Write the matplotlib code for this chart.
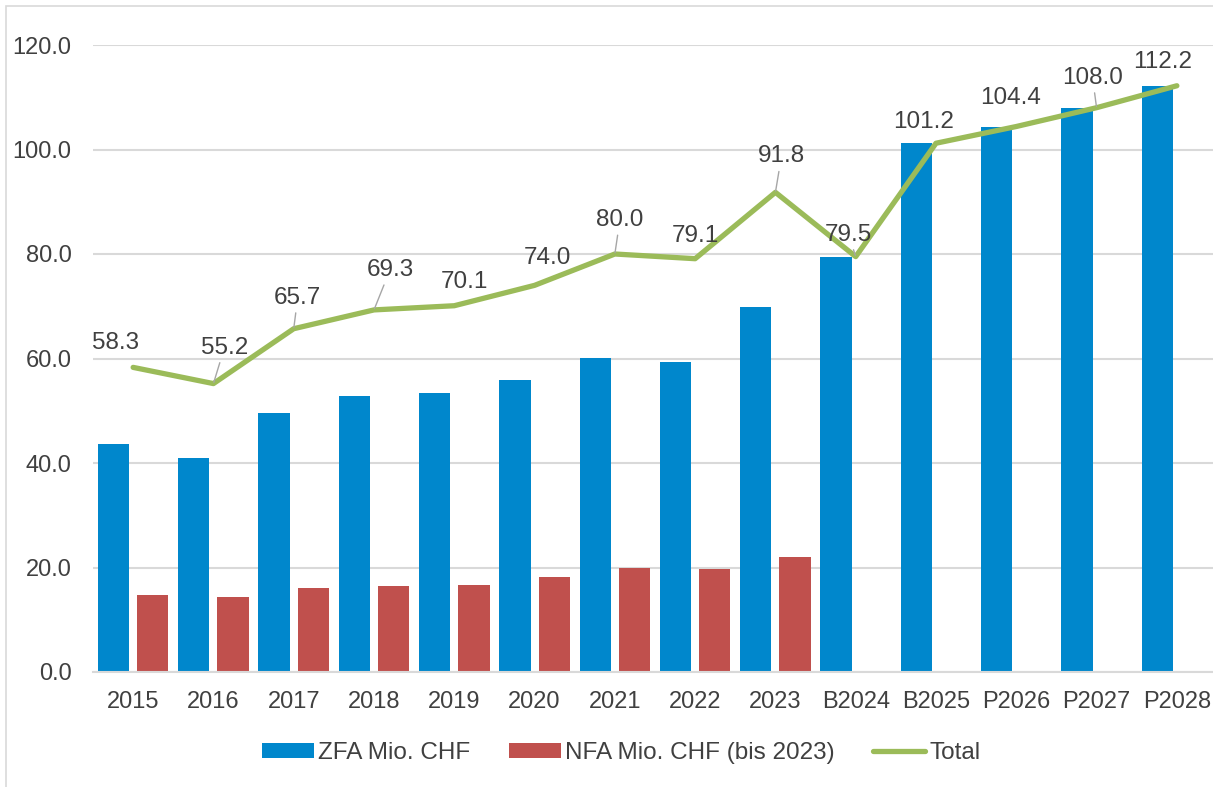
import matplotlib.pyplot as plt
import numpy as np
from matplotlib.patches import Rectangle

# Values (Mio. CHF).
categories = ['2015', '2016', '2017', '2018', '2019', '2020', '2021',
              '2022', '2023', 'B2024', 'B2025', 'P2026', 'P2027', 'P2028']
zfa = [43.6, 40.9, 49.6, 52.8, 53.4, 55.9, 60.1, 59.3, 69.8,
       79.5, 101.2, 104.4, 108.0, 112.2]
nfa = [14.7, 14.3, 16.1, 16.5, 16.7, 18.1, 19.9, 19.8, 22.0]   # bis 2023
total = [58.3, 55.2, 65.7, 69.3, 70.1, 74.0, 80.0, 79.1, 91.8,
         79.5, 101.2, 104.4, 108.0, 112.2]

# Where each total label sits relative to its point (pixels) and
# whether the gray leader line is shown.
label_offsets = [(-18, 24), (11, 36), (4, 31), (16, 40), (10, 24), (13, 27),
                 (5, 34), (0, 23), (6, 36), (-7, 22), (-12, 21), (-6, 29),
                 (-4, 30), (-14, 24)]
show_leader = [False, True, True, True, False, False, True, False, True,
               True, False, False, True, False]

BLUE = '#0087CC'
RED = '#C0504D'
GREEN = '#9BBB59'
GRID = '#D9D9D9'
TEXT = '#404040'

W, H = 1213, 787

plt.rcParams['font.family'] = ['Liberation Sans', 'DejaVu Sans']
plt.rcParams['font.size'] = 17
plt.rcParams['text.color'] = TEXT


def main():
    fig = plt.figure(figsize=(W / 100, H / 100), dpi=100)
    ax = fig.add_axes([93 / W, (H - 672) / H, (1217 - 93) / W, (672 - 45) / H])

    # Chart frame (light gray border of the embedded chart).
    fig.patches.append(Rectangle((6 / W, -0.01), 1.0, (H - 6) / H + 0.01,
                                 transform=fig.transFigure, fill=False,
                                 edgecolor=GRID, linewidth=1.2))

    x = np.arange(len(categories))
    width = 0.39
    offset = 0.245

    h_zfa = ax.bar(x - offset, zfa, width, color=BLUE, label='ZFA Mio. CHF',
                   zorder=2)
    h_nfa = ax.bar(x[:len(nfa)] + offset, nfa, width, color=RED,
                   label='NFA Mio. CHF (bis 2023)', zorder=2)
    h_tot, = ax.plot(x, total, color=GREEN, linewidth=3.8, label='Total',
                     solid_capstyle='round', solid_joinstyle='round', zorder=3)

    for xi, val, (dx, dy), lead in zip(x, total, label_offsets, show_leader):
        arrow = None
        if lead:
            arrow = dict(arrowstyle='-', color='#A6A6A6', linewidth=1.0,
                         shrinkA=1, shrinkB=1)
        ax.annotate(f'{val:.1f}', xy=(xi, val), xytext=(dx, dy),
                    textcoords='offset pixels', ha='center', va='center',
                    fontsize=17.5, color=TEXT, arrowprops=arrow, zorder=4)

    ax.set_xlim(-0.5, len(categories) - 0.5)
    ax.set_ylim(0, 120)
    ax.set_yticks(np.arange(0, 121, 20))
    ax.set_yticklabels([f'{v:.1f}' for v in np.arange(0, 121, 20)])
    ax.set_xticks(x)
    ax.set_xticklabels(categories)
    ax.tick_params(axis='both', length=0, colors=TEXT, labelsize=17)
    ax.tick_params(axis='y', pad=15.5)
    ax.tick_params(axis='x', pad=14)

    ax.yaxis.grid(True, color=GRID, linewidth=1.5, zorder=0)
    ax.set_axisbelow(True)
    for side in ['top', 'right', 'left']:
        ax.spines[side].set_visible(False)
    ax.spines['bottom'].set_color(GRID)
    ax.spines['bottom'].set_linewidth(1.5)

    fig.legend(handles=[h_zfa, h_nfa, h_tot], loc='center',
               bbox_to_anchor=(621 / W, (H - 753) / H),
               ncol=3, frameon=False, fontsize=17.5, handlelength=2.15,
               handleheight=0.55, handletextpad=0.15, columnspacing=1.6)

    fig.savefig('out.png', dpi=100)
    plt.close(fig)


if __name__ == '__main__':
    main()
